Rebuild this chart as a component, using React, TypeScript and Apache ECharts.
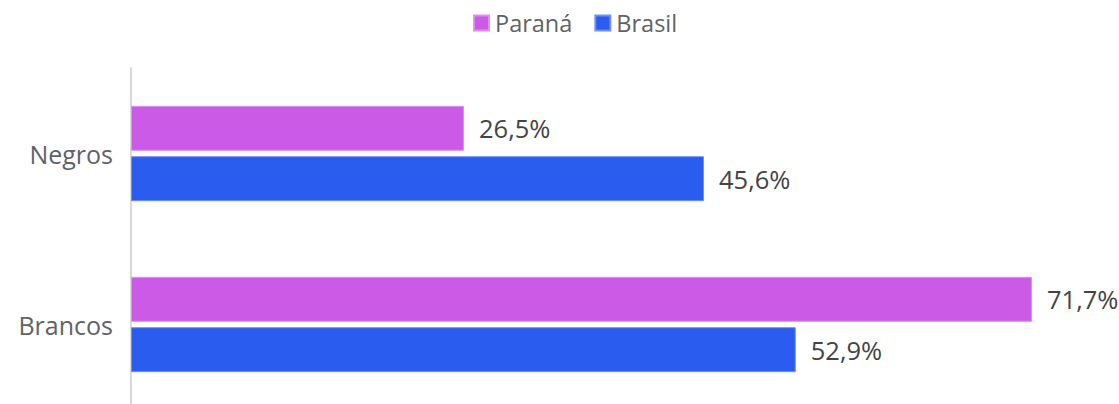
import React, { useEffect, useRef } from "react";
import * as echarts from "echarts";

const categories = ["Negros", "Brancos"];
const seriesNames = ["Paraná", "Brasil"];
const parana = [26.5, 71.7];
const brasil = [45.6, 52.9];
const colors = ["#CB5BE6", "#2A5CF0"];

const fmt = (v: number) => v.toFixed(1).replace(".", ",") + "%";

export default function App() {
  const ref = useRef<HTMLDivElement>(null);
  useEffect(() => {
    if (!ref.current) return;
    const chart = echarts.init(ref.current, null, { renderer: "svg" });
    const font = "'Open Sans', Roboto, sans-serif";
    const mk = (name: string, data: number[], color: string, border: string) => ({
      name,
      type: "bar",
      data,
      barWidth: 45,
      barGap: "12%",
      itemStyle: { color, borderColor: border, borderWidth: 1 },
      label: {
        show: true,
        position: "right",
        distance: 15,
        formatter: (p: any) => fmt(p.value),
        color: "#444444",
        fontSize: 25.5,
        fontFamily: font,
      },
    });
    chart.setOption({
      animation: false,
      textStyle: { fontFamily: font },
      color: colors,
      legend: {
        data: seriesNames,
        top: 6,
        left: 468,
        icon: "rect",
        itemWidth: 15,
        itemHeight: 15,
        itemGap: 22,
        textStyle: { fontSize: 23.5, color: "#5f6368", fontFamily: font, padding: [0, 0, 0, 1] },
      },
      grid: { left: 131, width: 901, top: 68, height: 342, containLabel: false },
      xAxis: {
        type: "value",
        min: 0,
        max: (v: any) => v.max,
        show: false,
        splitLine: { show: false },
      },
      yAxis: {
        type: "category",
        data: categories,
        inverse: true,
        axisLine: { show: true, lineStyle: { color: "#d9d9d9", width: 2 } },
        axisTick: { show: false },
        axisLabel: { fontSize: 25, color: "#5f6368", margin: 18, fontFamily: font },
      },
      series: [
        mk(seriesNames[0], parana, colors[0], "#DE8FF0"),
        mk(seriesNames[1], brasil, colors[1], "#6F8FF5"),
      ],
    });
    return () => chart.dispose();
  }, []);
  return (
    <div
      style={{ position: "absolute", left: 0, top: 0, width: 1119, height: 404, overflow: "hidden" }}
    >
      <div ref={ref} style={{ width: 1119, height: 420 }} />
    </div>
  );
}
